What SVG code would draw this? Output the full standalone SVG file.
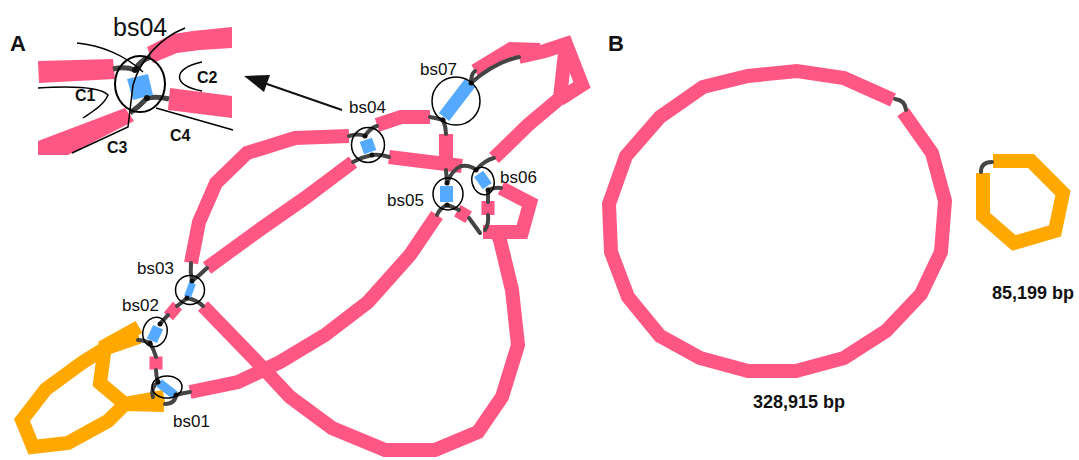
<svg xmlns="http://www.w3.org/2000/svg" width="1079" height="460" viewBox="0 0 1079 460">
<style>
.pk{fill:none;stroke:#FF5783;stroke-width:14;stroke-linejoin:miter;stroke-linecap:butt}
.or{fill:none;stroke:#FFA800;stroke-width:14;stroke-linejoin:miter;stroke-linecap:butt}
.gr{fill:none;stroke:#444;stroke-width:4;stroke-linecap:round}
.ring{fill:none;stroke:#000;stroke-width:1.5}
.bl{fill:#55AAFF}
.pf{fill:#FF5783}
.thin{fill:none;stroke:#000;stroke-width:1.5}
.lbl{font-family:"Liberation Sans",Arial,sans-serif;font-size:17px;fill:#111}
.bold{font-family:"Liberation Sans",Arial,sans-serif;font-weight:bold;fill:#111}
</style>
<rect width="1079" height="460" fill="#fff"/>

<!-- Panel labels -->
<text class="bold" x="10" y="51" font-size="22">A</text>
<text class="bold" x="608" y="51" font-size="22">B</text>

<!-- Inset -->
<g id="inset">
  <polygon class="pf" points="38,61 113,59 115,79 39,83"/>
  <polygon class="pf" points="147,47 173,34 193,31 232,27 232,48 200,50 177,53 153,63"/>
  <polygon class="pf" points="170,88 232,96 232,118 168,110"/>
  <polygon class="pf" points="38,141 125,108 134,121 68,155 38,155"/>
  <path d="M113,69 Q125,66 135,70 M135,70 Q140,60 151,57 M147,98 Q158,96 169,99 M147,98 Q140,106 130,113" fill="none" stroke="#444" stroke-width="5"/>
  <polygon class="bl" points="127,79 148,74 153,95 133,100"/>
  <circle cx="135" cy="70" r="3" fill="#111"/>
  <circle cx="147" cy="98" r="3" fill="#111"/>
  <ellipse cx="140" cy="84" rx="25" ry="28" fill="none" stroke="#000" stroke-width="2"/>
  <path class="thin" d="M77,43 C100,45 125,55 143,72"/>
  <path class="thin" d="M185,28 C160,38 140,60 133,85 L128,127 L72,153"/>
  <path class="thin" d="M38,88 C70,86 100,87 108,95 C104,105 92,112 83,118"/>
  <path class="thin" d="M202,62 C172,68 172,86 202,91"/>
  <path class="thin" d="M156,108 L233,130"/>
  <text x="113" y="36" font-family="Liberation Sans,Arial,sans-serif" font-size="25" fill="#111">bs04</text>
  <text class="bold" x="75" y="101" font-size="16">C1</text>
  <text class="bold" x="197" y="83" font-size="16">C2</text>
  <text class="bold" x="107" y="153" font-size="16">C3</text>
  <text class="bold" x="170" y="141" font-size="16">C4</text>
</g>

<!-- Arrow -->
<g id="arrow">
  <line x1="342" y1="110" x2="264" y2="83" stroke="#111" stroke-width="2"/>
  <polygon points="244,76 270,75 264,92" fill="#111"/>
</g>

<!-- Connectors (contig segments) -->
<g id="connectors">
  <polyline class="pk" points="191,263 199,222 216,183 247,153 295,138 349,136"/>
  <polyline class="pk" points="207,268 262,228 305,198 353,162"/>
  <polyline class="pk" points="377,125 401,117 430,117"/>
  <polyline class="pk" points="389,157 462,166"/>
  <polyline class="pk" points="446,134 446,170"/>
  <polyline class="pk" points="475,71 511,49 540,50"/>
  <polyline class="pk" points="519,57 545,51 566,44 582,85 560,99"/>
  <polyline class="pk" points="566,44 560,98 528,125 494,158"/>
  <polyline class="pk" points="437,215 410,255 368,302 325,335 280,362 238,382 190,392"/>
  <polyline class="pk" points="203,306 262,367 290,397 332,428 385,450 435,450 478,432 502,397 518,345 512,290 500,240 495,228"/>
  <polyline class="pk" points="501,188 530,203 522,232 483,232"/>
  <rect class="pf" x="-6.5" y="-6.5" width="13" height="13" transform="translate(463,214) rotate(30)"/>
  <rect class="pf" x="-6.5" y="-7" width="13" height="14" transform="translate(488,208)"/>
  <rect class="pf" x="-6" y="-7" width="12" height="14" transform="translate(173,311) rotate(40)"/>
  <rect class="pf" x="-6.5" y="-6.5" width="13" height="13" transform="translate(156,363)"/>
  <polyline class="or" points="139,327 105,346 100,383 125,404 164,397"/>
  <polyline class="or" points="139,337 104,349 83,362 46,389 22,420 33,447 68,443 108,421 125,404 164,405"/>
  <!-- gray links -->
  <path class="gr" d="M349,136 Q358,133 365,136 M365,136 Q370,128 377,126 M372,155 Q362,157 353,162 M372,155 Q380,154 389,157"/>
  <path class="gr" d="M471,83 Q471,74 475,71 M471,83 Q495,62 519,57 M443,120 Q436,118 430,117 M443,120 Q446,127 446,134"/>
  <path class="gr" d="M447,183 L446,170 M447,183 Q452,170 461,166 M447,205 Q440,208 437,215 M447,205 Q453,207 459,210"/>
  <path class="gr" d="M476,170 Q470,165 462,166 M476,170 Q485,160 494,158 M488,190 L488,202 M488,190 Q495,187 501,188 M469,218 Q475,226 480,233 M488,215 Q489,224 485,230"/>
  <path class="gr" d="M192,281 Q190,272 191,263 M192,281 Q200,275 207,268 M187,298 Q197,300 203,306 M187,298 Q180,304 177,306"/>
  <path class="gr" d="M160,324 Q165,318 168,315 M150,343 Q143,340 138,340 M150,343 Q154,350 156,357"/>
  <path class="gr" d="M158,382 Q156,376 156,370 M158,382 Q150,388 153,397 M176,395 Q183,393 190,392 M176,395 Q175,404 165,404"/>
</g>

<!-- Nodes -->
<g id="bs04">
  <rect class="bl" x="-6.5" y="-6.5" width="13" height="13" transform="translate(368,146) rotate(-20)"/>
  <circle cx="365" cy="136" r="2.5" fill="#111"/><circle cx="372" cy="155" r="2.5" fill="#111"/>
  <ellipse class="ring" cx="368" cy="145" rx="16.5" ry="17.5"/>
  <text class="lbl" x="349" y="113">bs04</text>
</g>
<g id="bs07">
  <line x1="444" y1="117" x2="470" y2="83" stroke="#55AAFF" stroke-width="13"/>
  <circle cx="471" cy="83" r="2.5" fill="#111"/><circle cx="443" cy="120" r="2.5" fill="#111"/>
  <circle class="ring" cx="456" cy="101" r="24"/>
  <text class="lbl" x="420" y="75">bs07</text>
</g>
<g id="bs05">
  <rect class="bl" x="440" y="186" width="13" height="16"/>
  <circle cx="447" cy="183" r="2.5" fill="#111"/><circle cx="447" cy="205" r="2.5" fill="#111"/>
  <ellipse class="ring" cx="448" cy="194" rx="15" ry="16"/>
  <text class="lbl" x="387" y="206">bs05</text>
</g>
<g id="bs06">
  <rect class="bl" x="-5.5" y="-7.5" width="11" height="15" transform="translate(483,180) rotate(-35)"/>
  <circle cx="476" cy="170" r="2.5" fill="#111"/><circle cx="488" cy="190" r="2.5" fill="#111"/>
  <ellipse class="ring" cx="483" cy="181" rx="11" ry="14" transform="rotate(-15 483 181)"/>
  <text class="lbl" x="500" y="183">bs06</text>
</g>
<g id="bs03">
  <rect class="bl" x="-3.5" y="-7.5" width="7" height="15" transform="translate(190,290) rotate(20)"/>
  <circle cx="192" cy="281" r="2.5" fill="#111"/><circle cx="187" cy="298" r="2.5" fill="#111"/>
  <circle class="ring" cx="190" cy="290" r="14.5"/>
  <text class="lbl" x="137" y="274">bs03</text>
</g>
<g id="bs02">
  <rect class="bl" x="-5.5" y="-7.5" width="11" height="15" transform="translate(155,334) rotate(25)"/>
  <circle cx="160" cy="324" r="2.5" fill="#111"/><circle cx="150" cy="343" r="2.5" fill="#111"/>
  <ellipse class="ring" cx="155" cy="332" rx="12" ry="15" transform="rotate(15 155 332)"/>
  <text class="lbl" x="122" y="311">bs02</text>
</g>
<g id="bs01">
  <rect class="bl" x="-10" y="-4.5" width="20" height="9" transform="translate(167,389) rotate(38)"/>
  <circle cx="158" cy="382" r="2.5" fill="#111"/><circle cx="176" cy="395" r="2.5" fill="#111"/>
  <ellipse class="ring" cx="167" cy="387" rx="15" ry="11"/>
  <text class="lbl" x="173" y="427">bs01</text>
</g>

<!-- Panel B -->
<g id="chrom-large">
  <polyline class="pk" points="903,112 932,153 945,201 941,252 921,294 886,331 844,358 796,371 748,371 700,358 660,336 628,297 611,252 609,204 626,156 660,117 703,87 748,76 797,71 844,78 893,100"/>
  <path class="gr" d="M895,99 Q905,100 906,110"/>
  <text class="bold" x="753" y="408" font-size="18">328,915 bp</text>
</g>
<g id="chrom-small">
  <polyline class="or" points="983,173 983,216 1014,243 1055,231 1063,193 1031,161 993,161"/>
  <path class="gr" d="M981,172 Q981,162 992,162"/>
  <text class="bold" x="992" y="299" font-size="18">85,199 bp</text>
</g>
</svg>
